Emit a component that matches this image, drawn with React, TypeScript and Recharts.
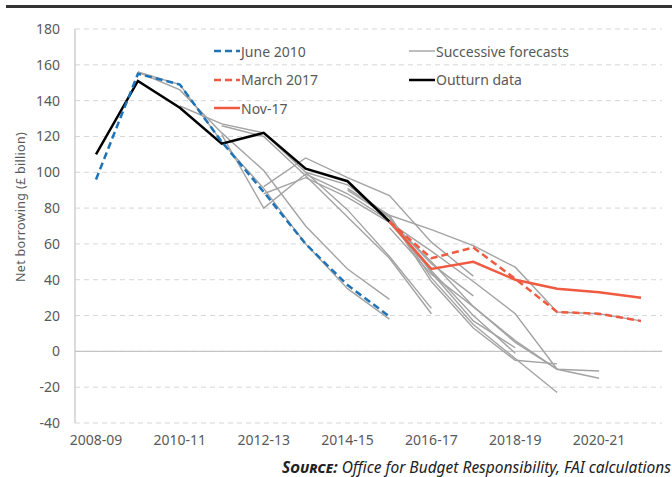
import { LineChart, Line, XAxis, YAxis, CartesianGrid, ReferenceLine, Legend } from 'recharts';

const categories = [
  '2008-09', '2009-10', '2010-11', '2011-12', '2012-13', '2013-14', '2014-15',
  '2015-16', '2016-17', '2017-18', '2018-19', '2019-20', '2020-21', '2021-22',
];

const n = null;
const outturn = [110, 151, 136, 116, 122, 102, 95, 72.5, n, n, n, n, n, n];
const june2010 = [96, 155, 149, 117, 89, 60, 37, 19.5, n, n, n, n, n, n];
const march2017 = [n, n, n, n, n, n, n, 72.5, 52, 58, 40.5, 22, 21, 17];
const nov17 = [n, n, n, n, n, n, n, 72.5, 46, 50, 40, 35, 33, 30];

// successive OBR forecasts (grey)
const fcNov10 = [n, 156, 149, 117, 91, 60, 35, 18, n, n, n, n, n, n];
const fcMar11 = [n, 156, 146, 122, 101, 70, 46, 29, n, n, n, n, n, n];
const fcNov11 = [n, n, 137, 127, 122, 100, 79, 53, 24, n, n, n, n, n];
const fcMar12 = [n, n, n, 126, 120, 98, 75, 52, 21, n, n, n, n, n];
const fcDec12 = [n, n, n, 121, 80, 99, 88, 73, 49, 31, n, n, n, n];
const fcMar13 = [n, n, n, n, 92, 108, 97, 87, 61, 42, n, n, n, n];
const fcDec13 = [n, n, n, n, 88, 97, 86, 72, 45, 20, -1, n, n, n];
const fcMar14 = [n, n, n, n, n, 100, 93, 75, 44, 17, 2, n, n, n];
const fcDec14 = [n, n, n, n, n, n, 91, 76, 41, 15, -4, -23, n, n];
const fcMar15 = [n, n, n, n, n, n, 90, 75, 39, 13, -5, -7, n, n];
const fcJul15 = [n, n, n, n, n, n, n, 69, 43, 25, 6, -10, n, n];
const fcNov15 = [n, n, n, n, n, n, n, 73, 50, 25, 5, -10, -15, n];
const fcMar16 = [n, n, n, n, n, n, n, 72, 56, 39, 21, -10, -11, n];
const fcNov16 = [n, n, n, n, n, n, n, 76, 68, 59, 47, 22, 21, 17];

const forecasts = [
  fcNov10, fcMar11, fcNov11, fcMar12, fcDec12, fcMar13, fcDec13,
  fcMar14, fcDec14, fcMar15, fcJul15, fcNov15, fcMar16, fcNov16,
];

const yTicks = [-40, -20, 0, 20, 40, 60, 80, 100, 120, 140, 160, 180];

const data = categories.map((year, i) => {
  const row: Record<string, any> = {
    year,
    outturn: outturn[i],
    june2010: june2010[i],
    march2017: march2017[i],
    nov17: nov17[i],
  };
  forecasts.forEach((f, k) => {
    row['fc' + k] = f[i];
  });
  return row;
});

const FONT = '"Noto Sans", sans-serif';
const GREY = '#a3a3a3';
const BLUE = '#1f73b7';
const RED = '#f05a40';
const TEXT = '#595959';

const legendItems = [
  { label: 'June 2010', color: BLUE, width: 2.5, dash: '7 4' },
  { label: 'Successive forecasts', color: GREY, width: 1.4, dash: undefined },
  { label: 'March 2017', color: RED, width: 2.5, dash: '7 4' },
  { label: 'Outturn data', color: '#000', width: 2.5, dash: undefined },
  { label: 'Nov-17', color: RED, width: 2.5, dash: undefined },
];

function renderLegend() {
  return (
    <div style={{ display: 'grid', gridTemplateColumns: '195px 200px', fontFamily: FONT }}>
      {legendItems.map((it) => (
        <div key={it.label} style={{ display: 'flex', alignItems: 'center', height: 28.5 }}>
          <svg width={26} height={10}>
            <line x1={0} y1={5} x2={26} y2={5} stroke={it.color} strokeWidth={it.width} strokeDasharray={it.dash} />
          </svg>
          <span style={{ fontSize: 14, color: TEXT, marginLeft: 1 }}>{it.label}</span>
        </div>
      ))}
    </div>
  );
}

export default function App() {
  return (
    <div style={{ position: 'absolute', left: 0, top: 0, width: 672, height: 477, background: '#fff', overflow: 'hidden', fontFamily: FONT }}>
      <div style={{ position: 'absolute', left: 6, top: 5, width: 670, height: 3, background: '#333' }} />
      <div
        style={{
          position: 'absolute', left: 20, top: 207, transform: 'translate(-50%, -50%) rotate(-90deg)',
          whiteSpace: 'nowrap', fontSize: 12.5, letterSpacing: 0.3, color: TEXT,
        }}
      >
        Net borrowing (£ billion)
      </div>
      <LineChart width={672} height={477} data={data} margin={{ top: 29, right: 10, left: 0, bottom: 24 }}>
        <CartesianGrid vertical={false} stroke="#d6d6d6" strokeDasharray="5 4" />
        <XAxis
          dataKey="year"
          interval={1}
          axisLine={false}
          tickLine={false}
          tickSize={0}
          tickMargin={12}
          height={30}
          padding={{ left: 21, right: 21 }}
          tick={{ fill: TEXT, fontSize: 14, fontFamily: FONT }}
        />
        <YAxis
          domain={[-40, 180]}
          ticks={yTicks}
          width={75}
          axisLine={{ stroke: '#c4c4c4', strokeWidth: 1.2 }}
          tickLine={false}
          tickSize={0}
          tickMargin={15}
          tick={{ fill: TEXT, fontSize: 14, fontFamily: FONT }}
        />
        <ReferenceLine y={0} stroke="#c4c4c4" strokeWidth={1.2} />
        <Legend
          content={renderLegend}
          layout="horizontal"
          verticalAlign="middle"
          align="center"
          wrapperStyle={{ position: 'absolute', left: 214, top: 37, width: 400 }}
        />
        {forecasts.map((_, k) => (
          <Line
            key={k}
            dataKey={'fc' + k}
            stroke={GREY}
            strokeWidth={1.4}
            dot={false}
            type="linear"
            legendType="none"
            isAnimationActive={false}
          />
        ))}
        <Line dataKey="outturn" stroke="#000" strokeWidth={2.5} dot={false} type="linear" isAnimationActive={false} />
        <Line dataKey="june2010" stroke={BLUE} strokeWidth={2.5} strokeDasharray="7 4" dot={false} type="linear" isAnimationActive={false} />
        <Line dataKey="march2017" stroke={RED} strokeWidth={2.5} strokeDasharray="7 4" dot={false} type="linear" isAnimationActive={false} />
        <Line dataKey="nov17" stroke={RED} strokeWidth={2.5} dot={false} type="linear" isAnimationActive={false} />
      </LineChart>
      <div
        style={{
          position: 'absolute', left: 282, top: 456, whiteSpace: 'nowrap', fontSize: 15.5,
          fontStyle: 'italic', color: '#222',
        }}
      >
        <b style={{ fontVariant: 'small-caps' }}>Source:</b> Office for Budget Responsibility, FAI calculations
      </div>
    </div>
  );
}
